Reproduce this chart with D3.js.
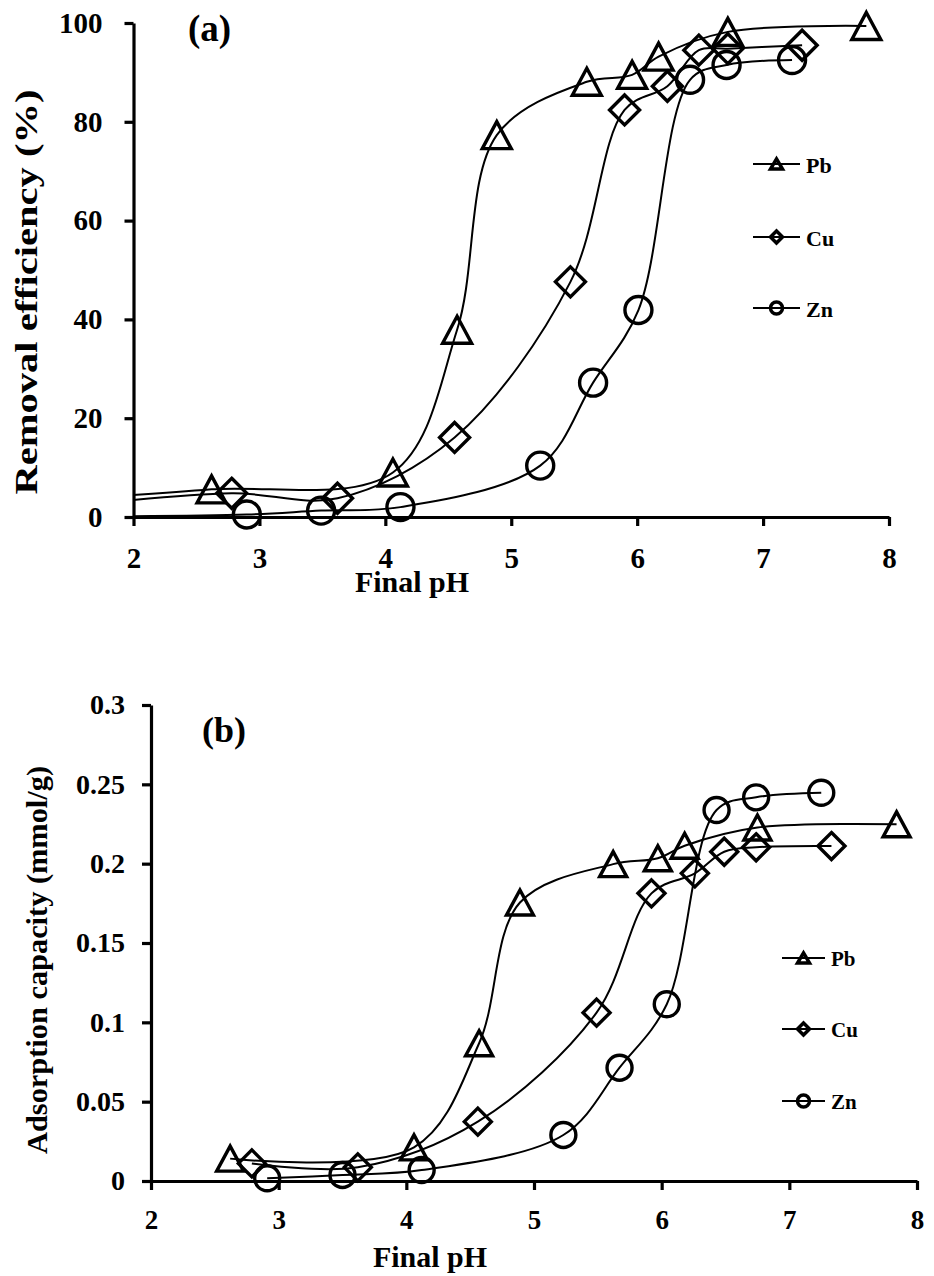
<!DOCTYPE html>
<html>
<head>
<meta charset="utf-8">
<script src="https://cdn.jsdelivr.net/npm/d3@7"></script>
<style>
  html, body { margin: 0; padding: 0; background: #fff; }
  svg { display: block; }
  text { font-family: "Times New Roman", "Liberation Serif", serif; font-weight: bold; fill: #000; }
</style>
</head>
<body>
<svg id="chart" width="934" height="1276"></svg>
<script>
// ---------- DATA ----------
const xTicks = [2, 3, 4, 5, 6, 7, 8];
const yTicksA = [0, 20, 40, 60, 80, 100];
const yTicksB = [0, 0.05, 0.1, 0.15, 0.2, 0.25, 0.3];
const yTickLabelsB = ["0", "0.05", "0.1", "0.15", "0.2", "0.25", "0.3"];
const seriesNames = ["Pb", "Cu", "Zn"];

// (a) removal efficiency (%) vs final pH (first point lies left of the axis, clipped)
const phPbA = [1.6, 2.62, 4.06, 4.57, 4.885, 5.6, 5.96, 6.17, 6.72, 7.82];
const pbA   = [3.8, 5.6, 9.0, 37.9, 77.3, 88.1, 89.5, 93.2, 98.2, 99.4];
const phCuA = [1.6, 2.78, 3.62, 4.55, 5.47, 5.9, 6.24, 6.49, 6.72, 7.31];
const cuA   = [2.4, 4.8, 3.8, 16.1, 47.6, 82.4, 87.2, 94.5, 94.8, 95.5];
const phZnA = [1.6, 2.9, 3.49, 4.12, 5.23, 5.65, 6.01, 6.42, 6.71, 7.23];
const znA   = [0.1, 0.5, 1.3, 2.0, 10.4, 27.2, 41.9, 88.5, 91.5, 92.5];

// (b) adsorption capacity (mmol/g) vs final pH
const phPbB = [2.62, 4.06, 4.57, 4.89, 5.62, 5.97, 6.18, 6.75, 7.84];
const pbB   = [0.0141, 0.0212, 0.0868, 0.1755, 0.1997, 0.2034, 0.2113, 0.2228, 0.2248];
const phCuB = [2.79, 3.62, 4.56, 5.49, 5.92, 6.26, 6.49, 6.74, 7.33];
const cuB   = [0.0111, 0.0086, 0.0374, 0.1061, 0.1813, 0.1939, 0.2075, 0.2103, 0.2111];
const phZnB = [2.91, 3.5, 4.12, 5.23, 5.67, 6.04, 6.43, 6.74, 7.25];
const znB   = [0.0017, 0.0038, 0.0069, 0.029, 0.0714, 0.1114, 0.2338, 0.2418, 0.2447];

// ---------- DRAW ----------
const svg = d3.select("#chart");
const FONT = '"Times New Roman", "Liberation Serif", serif';

function markerPath(type, w, h) {
  if (type === "tri") {
    return `M0,${-h/2}L${w/2},${h/2}L${-w/2},${h/2}Z`;
  } else if (type === "dia") {
    return `M0,${-h/2}L${w/2},0L0,${h/2}L${-w/2},0Z`;
  } else {
    const r = w / 2;
    return `M${r},0A${r},${r},0,1,1,${-r},0A${r},${r},0,1,1,${r},0Z`;
  }
}
const markerTypes = ["tri", "dia", "circ"];

function drawPanel(cfg) {
  const g = svg.append("g");
  const x = d3.scaleLinear().domain([2, 8]).range([cfg.x0, cfg.x1]);
  const y = d3.scaleLinear().domain([0, cfg.yMax]).range([cfg.y0, cfg.y1]);

  const clipId = "clip" + cfg.id;
  svg.append("clipPath").attr("id", clipId).append("rect")
    .attr("x", cfg.x0).attr("y", cfg.y1 - 30)
    .attr("width", cfg.x1 - cfg.x0 + 40).attr("height", cfg.y0 - cfg.y1 + 40);

  // axes
  const xAxis = d3.axisBottom(x).tickValues(xTicks).tickFormat(d3.format("d"))
    .tickSize(9).tickSizeOuter(0).tickPadding(cfg.xPad);
  const yAxis = d3.axisLeft(y).tickValues(cfg.yTicks)
    .tickFormat((d, i) => cfg.yLabels[i]).tickSize(9).tickSizeOuter(0).tickPadding(cfg.yPad);

  const gx = g.append("g").attr("transform", `translate(0,${cfg.y0})`).call(xAxis);
  const gy = g.append("g").attr("transform", `translate(${cfg.x0},0)`).call(yAxis);
  [gx, gy].forEach(a => {
    a.attr("font-family", null).attr("font-size", null);
    a.select(".domain").attr("stroke", "#000").attr("stroke-width", 3.2);
    a.selectAll(".tick line").attr("stroke", "#000").attr("stroke-width", 3.2);
    a.selectAll(".tick text").attr("fill", "#000")
      .style("font-family", FONT).style("font-weight", "bold");
  });
  gx.selectAll(".tick text").style("font-size", cfg.xFont + "px");
  gy.selectAll(".tick text").style("font-size", cfg.yFont + "px");

  // lines
  const line = d3.line().x(d => x(d[0])).y(d => y(d[1])).curve(d3.curveCatmullRom.alpha(0.5));
  const lineG = g.append("g").attr("clip-path", `url(#${clipId})`);
  cfg.series.forEach((s, i) => {
    const pts = s.ph.map((p, k) => [p, s.v[k]]);
    lineG.append("path").datum(pts).attr("d", line)
      .attr("fill", "none").attr("stroke", "#000").attr("stroke-width", 2);
  });
  // markers
  cfg.series.forEach((s, i) => {
    const pts = s.ph.map((p, k) => [p, s.v[k]]).filter(d => d[0] >= 2);
    const t = markerTypes[i];
    const sz = cfg.mk[t];
    g.append("g").selectAll("path").data(pts).join("path")
      .attr("d", markerPath(t, sz[0], sz[1]))
      .attr("transform", d => `translate(${x(d[0])},${y(d[1])})`)
      .attr("fill", "none").attr("stroke", "#000").attr("stroke-width", 3.4)
      .attr("stroke-linejoin", "miter");
  });

  // axis titles
  g.append("text").attr("x", cfg.xtX).attr("y", cfg.xtY).attr("text-anchor", "middle")
    .style("font-size", cfg.titleFont + "px").text("Final pH");
  g.append("text").attr("transform", `translate(${cfg.ytX},${cfg.ytY}) rotate(-90)`)
    .attr("text-anchor", "middle").style("font-size", cfg.yTitleFont + "px")
    .attr("textLength", cfg.ytLen).attr("lengthAdjust", "spacingAndGlyphs")
    .text(cfg.yTitle);
  // panel tag
  g.append("text").attr("x", cfg.tagX).attr("y", cfg.tagY)
    .style("font-size", cfg.tagFont + "px").text(cfg.tag);

  // legend
  cfg.series.forEach((s, i) => {
    const ly = cfg.legY[i];
    const lg = g.append("g");
    lg.append("line").attr("x1", cfg.legX0).attr("x2", cfg.legX1)
      .attr("y1", ly).attr("y2", ly).attr("stroke", "#000").attr("stroke-width", 2.2);
    const t = markerTypes[i];
    lg.append("path").attr("d", markerPath(t, cfg.legMk, cfg.legMk * (t === "tri" ? 0.85 : 1)))
      .attr("transform", `translate(${(cfg.legX0 + cfg.legX1) / 2},${ly})`)
      .attr("fill", "none").attr("stroke", "#000").attr("stroke-width", 3.5);
    lg.append("text").attr("x", cfg.legX1 + 6).attr("y", ly + cfg.legDy)
      .style("font-size", cfg.legFont + "px").text(seriesNames[i]);
  });
}

drawPanel({
  id: "A", x0: 133.5, x1: 889, y0: 517, y1: 23, yMax: 100,
  yTicks: yTicksA, yLabels: yTicksA.map(String),
  xPad: 21, yPad: 22, xFont: 29, yFont: 29,
  series: [{ph: phPbA, v: pbA}, {ph: phCuA, v: cuA}, {ph: phZnA, v: znA}],
  mk: {tri: [29, 27], dia: [30, 30], circ: [27, 27]},
  xtX: 412, xtY: 592, titleFont: 30,
  ytX: 37, ytY: 292, yTitleFont: 31, ytLen: 405, yTitle: "Removal efficiency (%)",
  tag: "(a)", tagX: 188, tagY: 41, tagFont: 37,
  legX0: 753, legX1: 800, legY: [164, 237, 308], legDy: 8.5, legFont: 22, legMk: 12
});

drawPanel({
  id: "B", x0: 151, x1: 917, y0: 1181, y1: 705, yMax: 0.3,
  yTicks: yTicksB, yLabels: yTickLabelsB,
  xPad: 20, yPad: 17, xFont: 27, yFont: 28,
  series: [{ph: phPbB, v: pbB}, {ph: phCuB, v: cuB}, {ph: phZnB, v: znB}],
  mk: {tri: [27, 25], dia: [27, 27], circ: [25, 25]},
  xtX: 430, xtY: 1267, titleFont: 30,
  ytX: 47, ytY: 960, yTitleFont: 30, ytLen: 388, yTitle: "Adsorption capacity (mmol/g)",
  tag: "(b)", tagX: 202, tagY: 742, tagFont: 36,
  legX0: 782, legX1: 825, legY: [958, 1029, 1101], legDy: 8, legFont: 21, legMk: 12
});
</script>
</body>
</html>
